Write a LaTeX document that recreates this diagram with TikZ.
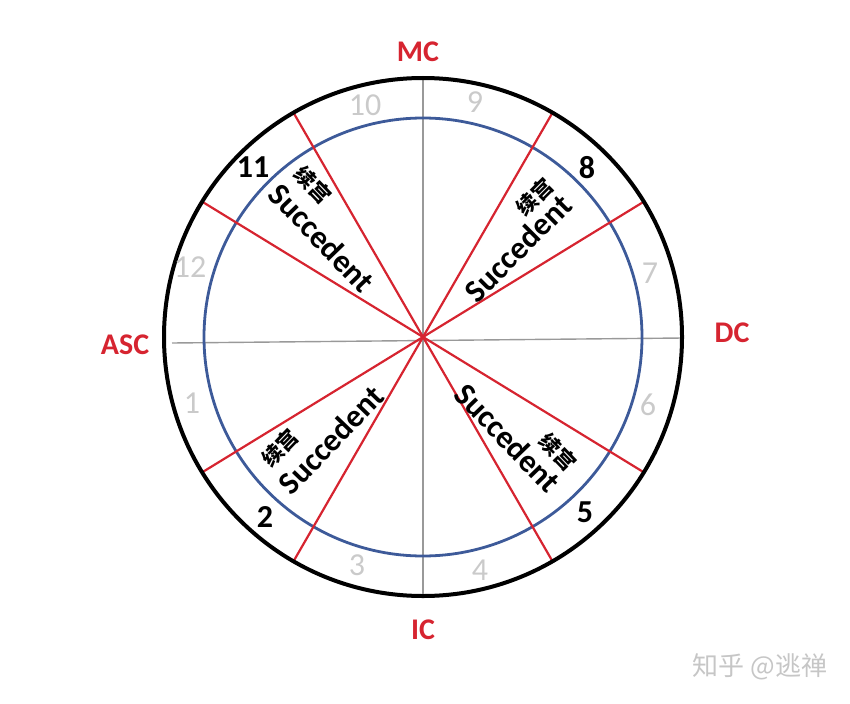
\documentclass[tikz,border=0pt]{standalone}
\usepackage{fontspec}
\setmainfont{Carlito}
\newfontfamily\cjkfont{Noto Sans CJK SC}
\definecolor{axisred}{HTML}{D62430}
\definecolor{ringblue}{HTML}{3D5A99}
\definecolor{faint}{HTML}{CACACA}

\begin{document}
\begin{tikzpicture}[x=0.5pt, y=0.5pt,
  axislabel/.style={text=axisred, font=\fontsize{15}{15}\selectfont\bfseries},
  housedim/.style={text=faint, font=\fontsize{16}{16}\selectfont},
  housebold/.style={font=\fontsize{16}{16}\selectfont\bfseries},
  succ/.style={font=\fontsize{16}{16}\selectfont\bfseries, inner sep=0pt},
  xugong/.style={font=\cjkfont\fontsize{10.5}{10.5}\selectfont\bfseries, inner sep=0pt}]
  \useasboundingbox (0,0) rectangle (850,703);

  % circles and cusps
  \begin{scope}[shift={(423,366)}]
    \draw[gray!80, line width=0.7pt] (-251,-6) -- (260,-1);
    \draw[gray!80, line width=0.7pt] (0,259) -- (0,-259);
    \draw[ringblue, line width=1.4pt] (0,0) circle[radius=109.5pt];
    \foreach \a in {31.5, 60, 120, 148.5}
      \draw[axisred, line width=1.1pt] (\a:259) -- (\a+180:259);
    \draw[line width=2pt] (0,0) circle[radius=129.5pt];
  \end{scope}

  % angles
  \node[axislabel] (mc)  at (418,651) {MC};
  \node[axislabel] (asc) at (125,358) {ASC};
  \node[axislabel] (dc)  at (732,370) {DC};
  \node[axislabel] (ic)  at (423,73)  {IC};

  % house numbers
  \node[housedim]  (h10) at (365,598) {10};
  \node[housedim]  (h9)  at (475,601) {9};
  \node[housebold] (h11) at (253,536) {11};
  \node[housebold] (h8)  at (587,535) {8};
  \node[housedim]  (h12) at (190,436) {12};
  \node[housedim]  (h7)  at (650,430) {7};
  \node[housedim]  (h1)  at (192,300) {1};
  \node[housedim]  (h6)  at (648,298) {6};
  \node[housebold] (h2)  at (265,186) {2};
  \node[housebold] (h5)  at (585,191) {5};
  \node[housedim]  (h3)  at (357,138) {3};
  \node[housedim]  (h4)  at (480,133) {4};

  % succedent houses
  \node[succ, rotate=-46] (sucul) at (322,465) {Succedent};
  \node[succ, rotate=45]  (sucur) at (518,455) {Succedent};
  \node[succ, rotate=46]  (sucll) at (331,263) {Succedent};
  \node[succ, rotate=-46] (suclr) at (508,265) {Succedent};
  \node[xugong, rotate=-46] (xuul) at (313,518) {续宫};
  \node[xugong, rotate=45]  (xuur) at (535,506) {续宫};
  \node[xugong, rotate=46]  (xull) at (280,255) {续宫};
  \node[xugong, rotate=-46] (xulr) at (558,251) {续宫};

  \node[text=gray!45, font=\cjkfont\fontsize{13}{13}\selectfont] (mark) at (760,36) {知乎 @逃禅};
\end{tikzpicture}
\end{document}
